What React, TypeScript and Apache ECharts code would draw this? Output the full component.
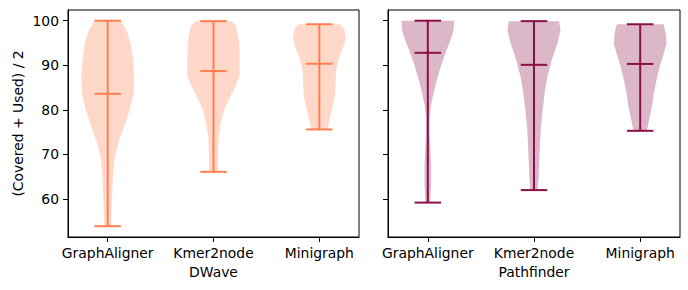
import React, { useEffect, useRef } from 'react';
import * as echarts from 'echarts';

const categories = ['GraphAligner', 'Kmer2node', 'Minigraph'];
const panelNames = ['DWave', 'Pathfinder'];
const yTicks = [60, 70, 80, 90, 100];
const xTicks = [1, 2, 3];

// DWave summary stats (min / median / max) per category
const dwaveMin = [53.9, 66.1, 75.6];
const dwaveMedian = [83.6, 88.7, 90.35];
const dwaveMax = [100, 99.9, 99.2];

// Pathfinder summary stats
const pathMin = [59.2, 62.0, 75.3];
const pathMedian = [92.8, 90.1, 90.3];
const pathMax = [100, 99.9, 99.2];

// Violin density profiles: [value, half-width in axis units], top to bottom
const dwaveGA = [[100, 0.123], [97.9, 0.177], [94.9, 0.217], [91.2, 0.239], [87.4, 0.25], [83.7, 0.246], [80, 0.208], [76.2, 0.154], [72.5, 0.099], [68.8, 0.063], [65, 0.05], [61.3, 0.043], [57.5, 0.038], [53.9, 0.033]];
const dwaveK2N = [[99.9, 0.164], [99.2, 0.205], [97.9, 0.224], [94.9, 0.243], [91.2, 0.247], [87.4, 0.246], [85.2, 0.205], [82.9, 0.157], [80, 0.101], [77, 0.069], [74, 0.05], [70.3, 0.044], [66.1, 0.041]];
const dwaveMG = [[99.2, 0.197], [97.9, 0.236], [96, 0.25], [94.2, 0.229], [91.9, 0.189], [88.9, 0.159], [86, 0.153], [83, 0.147], [80, 0.118], [77.8, 0.094], [75.6, 0.08]];
const pathGA = [[100, 0.248], [97.9, 0.243], [95.7, 0.215], [92.7, 0.165], [89.7, 0.122], [86.7, 0.085], [83.7, 0.053], [80.7, 0.027], [77.8, 0.016], [74.8, 0.017], [71, 0.025], [67.3, 0.031], [63.6, 0.031], [59.2, 0.022]];
const pathK2N = [[99.9, 0.236], [97.9, 0.25], [94.9, 0.22], [91.2, 0.167], [87.4, 0.126], [83.7, 0.1], [80, 0.082], [76.2, 0.066], [72.5, 0.057], [68.8, 0.05], [65, 0.044], [62, 0.035]];
const pathMG = [[99.2, 0.22], [97.1, 0.242], [94.9, 0.248], [92.7, 0.223], [89.7, 0.184], [86.7, 0.153], [83.7, 0.129], [80.7, 0.11], [78.5, 0.091], [76.2, 0.071], [75.3, 0.063]];

const dwaveProfiles = [dwaveGA, dwaveK2N, dwaveMG];
const pathProfiles = [pathGA, pathK2N, pathMG];

const FONT = 'DejaVu Sans';

function makeRender(profiles: number[][][], mins: number[], medians: number[], maxs: number[], stroke: string, fill: string) {
  return (params: any, api: any) => {
    const i = params.dataIndex;
    const pos = api.value(0);
    const prof = profiles[i];
    const right = prof.map(([v, w]) => api.coord([pos + w, v]));
    const left = prof.slice().reverse().map(([v, w]) => api.coord([pos - w, v]));
    const pts = right.concat(left);
    const seg = (x1: number, x2: number, y1: number, y2: number) => {
      const a = api.coord([x1, y1]);
      const b = api.coord([x2, y2]);
      return { type: 'line', shape: { x1: a[0], y1: a[1], x2: b[0], y2: b[1] }, style: { stroke, lineWidth: 2 } };
    };
    const cw = 0.125;
    return {
      type: 'group',
      children: [
        { type: 'polygon', shape: { points: pts }, style: { fill } },
        seg(pos, pos, mins[i], maxs[i]),
        seg(pos - cw, pos + cw, mins[i], mins[i]),
        seg(pos - cw, pos + cw, maxs[i], maxs[i]),
        seg(pos - cw, pos + cw, medians[i], medians[i]),
      ],
    };
  };
}

export default function App() {
  const ref = useRef<HTMLDivElement>(null);
  useEffect(() => {
    document.body.style.margin = '0';
    const chart = echarts.init(ref.current!, null, { renderer: 'svg' });
    const textStyle = { color: '#000', fontSize: 13.9, fontFamily: FONT };
    const grids = [
      { left: 68, top: 10, width: 291, height: 227 },
      { left: 388, top: 10, width: 292, height: 227 },
    ].map((g) => ({ ...g, show: true, borderColor: '#000', borderWidth: 1, backgroundColor: 'transparent', containLabel: false }));
    const xAxes = [0, 1].map((g) => ({
      type: 'value',
      gridIndex: g,
      min: 0.625,
      max: 3.375,
      axisLine: { show: true, onZero: false, lineStyle: { color: '#000', width: 1 } },
      axisTick: { show: true, customValues: xTicks, length: 5, lineStyle: { color: '#000', width: 1 } },
      axisLabel: { show: true, customValues: xTicks, formatter: (v: number) => categories[Math.round(v) - 1] || '', margin: 9, ...textStyle },
      splitLine: { show: false },
      name: panelNames[g],
      nameLocation: 'middle',
      nameGap: 28,
      nameTextStyle: textStyle,
    }));
    const yAxes = [0, 1].map((g) => ({
      type: 'value',
      gridIndex: g,
      min: 51.48,
      max: 102.4,
      axisLine: { show: true, onZero: false, lineStyle: { color: '#000', width: 1 } },
      axisTick: { show: true, customValues: yTicks, length: 5, lineStyle: { color: '#000', width: 1 } },
      axisLabel: { show: g === 0, customValues: yTicks, margin: 9, ...textStyle },
      splitLine: { show: false },
      name: g === 0 ? '(Covered + Used) / 2' : '',
      nameLocation: 'middle',
      nameGap: 43,
      nameRotate: 90,
      nameTextStyle: textStyle,
    }));
    chart.setOption({
      animation: false,
      grid: grids,
      xAxis: xAxes,
      yAxis: yAxes,
      series: [
        {
          type: 'custom',
          xAxisIndex: 0,
          yAxisIndex: 0,
          encode: { x: 0, y: 1 },
          data: xTicks.map((p, i) => [p, dwaveMedian[i]]),
          renderItem: makeRender(dwaveProfiles, dwaveMin, dwaveMedian, dwaveMax, '#ff7f50', 'rgba(255,127,80,0.3)'),
        },
        {
          type: 'custom',
          xAxisIndex: 1,
          yAxisIndex: 1,
          encode: { x: 0, y: 1 },
          data: xTicks.map((p, i) => [p, pathMedian[i]]),
          renderItem: makeRender(pathProfiles, pathMin, pathMedian, pathMax, '#8c1048', 'rgba(140,16,72,0.3)'),
        },
      ],
    });
    return () => chart.dispose();
  }, []);
  return <div ref={ref} style={{ position: 'absolute', left: 0, top: 0, width: 688, height: 290 }} />;
}
